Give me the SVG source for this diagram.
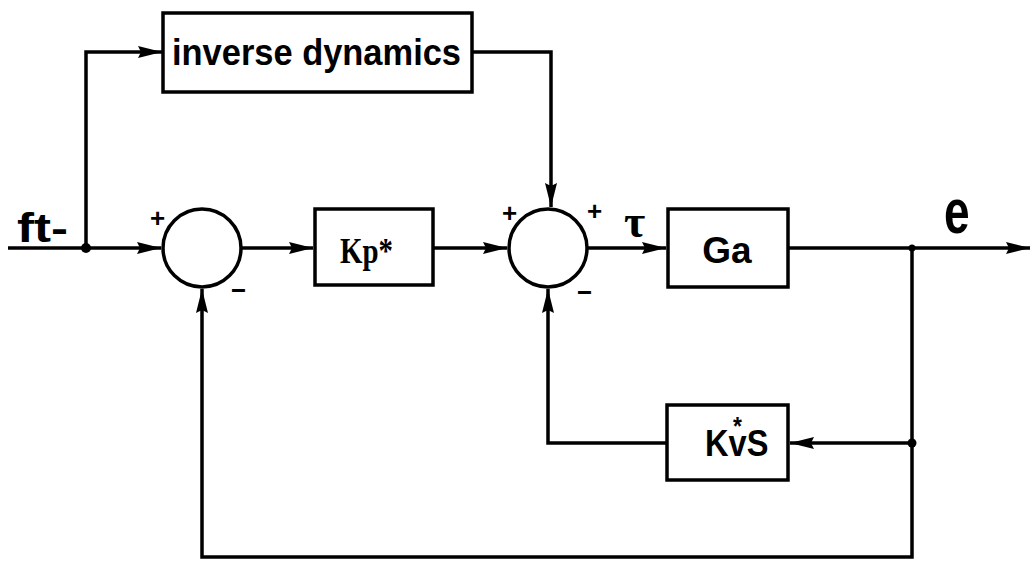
<svg xmlns="http://www.w3.org/2000/svg" width="1033" height="564" viewBox="0 0 1033 564">
<style>
.box{fill:#fff;stroke:#000;stroke-width:3.5}
.sum{fill:#fff;stroke:#000;stroke-width:3.5}
.ln{fill:none;stroke:#000;stroke-width:3.5}
.t{font-family:"Liberation Sans",Arial,sans-serif;font-weight:bold;fill:#000}
.s{font-family:"Liberation Sans",Arial,sans-serif;font-weight:bold;fill:#000;font-size:26px}
</style>
<defs>
<marker id="ah" markerUnits="userSpaceOnUse" markerWidth="26" markerHeight="14" refX="24" refY="7" orient="auto">
<path d="M0,1 L24,7 L0,13 L3,7 Z" fill="#000"/>
</marker>
</defs>
<rect width="1033" height="564" fill="#fff"/>
<g id="connectors">
<path class="ln" d="M8,248 L161,248" marker-end="url(#ah)"/>
<path class="ln" d="M86,248 L86,52 L162,52" marker-end="url(#ah)"/>
<path class="ln" d="M472,52 L551,52 L551,207" marker-end="url(#ah)"/>
<path class="ln" d="M241,248 L313,248" marker-end="url(#ah)"/>
<path class="ln" d="M433,248 L507,248" marker-end="url(#ah)"/>
<path class="ln" d="M588,248 L666,248" marker-end="url(#ah)"/>
<path class="ln" d="M788,248 L1030,248" marker-end="url(#ah)"/>
<path class="ln" d="M912,248 L912,557 L202,557 L202,289" marker-end="url(#ah)"/>
<path class="ln" d="M912,443 L790,443" marker-end="url(#ah)"/>
<path class="ln" d="M667,443 L548,443 L548,289" marker-end="url(#ah)"/>
<circle cx="86" cy="248" r="5" fill="#000"/>
<circle cx="912" cy="248" r="3.5" fill="#000"/>
<circle cx="912" cy="443" r="4.5" fill="#000"/>
</g>
<g id="node-input">
<text class="t" x="17" y="242" font-size="40" textLength="51" lengthAdjust="spacingAndGlyphs">ft-</text>
</g>
<g id="node-inverse">
<rect class="box" x="163" y="13" width="309" height="79"/>
<text class="t" x="172" y="65" font-size="37" textLength="289" lengthAdjust="spacingAndGlyphs">inverse dynamics</text>
</g>
<g id="node-sum1">
<circle class="sum" cx="202" cy="248" r="39"/>
<text class="s" x="150" y="227">+</text>
<text class="s" x="230" y="297" textLength="17" lengthAdjust="spacingAndGlyphs">-</text>
</g>
<g id="node-kp">
<rect class="box" x="315" y="209" width="118" height="76"/>
<text x="340" y="263" font-family="'Liberation Serif','Times New Roman',serif" font-weight="bold" font-size="36" textLength="53" lengthAdjust="spacingAndGlyphs" fill="#000">Kp*</text>
</g>
<g id="node-sum2">
<circle class="sum" cx="548" cy="248" r="39"/>
<text class="s" x="502" y="222">+</text>
<text class="s" x="587" y="220">+</text>
<text class="s" x="576" y="299" textLength="17" lengthAdjust="spacingAndGlyphs">-</text>
<text x="624" y="237" font-family="'Liberation Serif','Times New Roman',serif" font-weight="bold" font-size="46" fill="#000">τ</text>
</g>
<g id="node-ga">
<rect class="box" x="668" y="209" width="120" height="78"/>
<text class="t" x="727" y="263" font-size="37" text-anchor="middle">Ga</text>
<text class="t" font-size="46" transform="translate(944,233) scale(1,1.35)">e</text>
</g>
<g id="node-kvs">
<rect class="box" x="667" y="405" width="121" height="75"/>
<text class="t" font-size="37" transform="translate(705,456) scale(0.88,1)">Kv<tspan font-size="26" dx="-15.5" dy="-21">*</tspan><tspan dx="5.4" dy="21">S</tspan></text>
</g>
</svg>
